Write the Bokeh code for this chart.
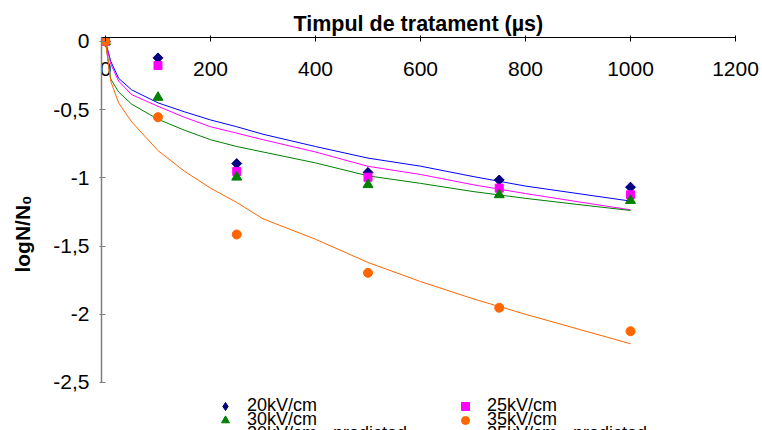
import math
from bokeh.plotting import figure
from bokeh.models import Range1d, FixedTicker, Legend, LegendItem, ColumnDataSource
from bokeh.embed import file_html
from bokeh.resources import INLINE

# ---- data ----
t_meas = [0, 100, 250, 500, 750, 1000]
y_20 = [0, -0.12, -0.895, -0.96, -1.015, -1.068]
y_25 = [0, -0.176, -0.953, -0.995, -1.075, -1.124]
y_30 = [0, -0.41, -0.995, -1.05, -1.124, -1.166]
y_35 = [0, -0.555, -1.415, -1.696, -1.952, -2.124]

t_fit = [0, 10, 25, 50, 100, 150, 200, 250, 300, 400, 500, 600, 700, 800, 900, 1000]
fit_20 = [0, -0.145, -0.27, -0.355, -0.45, -0.515, -0.575, -0.625, -0.68, -0.77, -0.855, -0.914, -0.99, -1.06, -1.115, -1.17]
fit_25 = [0, -0.165, -0.29, -0.39, -0.475, -0.555, -0.625, -0.672, -0.72, -0.81, -0.915, -0.975, -1.05, -1.115, -1.175, -1.234]
fit_30 = [0, -0.275, -0.37, -0.46, -0.57, -0.65, -0.72, -0.77, -0.81, -0.89, -0.985, -1.04, -1.1, -1.15, -1.195, -1.239]
fit_35 = [0, -0.29, -0.45, -0.59, -0.80, -0.95, -1.075, -1.18, -1.30, -1.45, -1.62, -1.76, -1.886, -2.0, -2.108, -2.216]

x_ticks = [0, 200, 400, 600, 800, 1000, 1200]
x_tick_labels = ["0", "200", "400", "600", "800", "1000", "1200"]
y_ticks = [0, -0.5, -1, -1.5, -2, -2.5]
y_tick_labels = ["0", "-0,5", "-1", "-1,5", "-2", "-2,5"]

FONT = "Liberation Sans"
X0, X1 = -7.6, 1251.4
Y0, Y1 = -2.852, 0.0293

p = figure(width=762, height=430, output_backend="svg", toolbar_location=None,
           x_range=Range1d(X0, X1), y_range=Range1d(Y0, Y1),
           x_axis_location="above",
           min_border_left=101, min_border_right=0, min_border_top=37, min_border_bottom=0,
           title="Timpul de tratament (µs)")
p.grid.visible = False
p.outline_line_color = None
p.background_fill_color = "white"

p.title.align = "left"
p.title.offset = 192
p.title.text_font = FONT
p.title.text_font_size = "21.5px"
p.title.text_font_style = "bold"
p.title.standoff = 0
p.title.text_color = "black"

xa = p.xaxis[0]
xa.bounds = (X0, 1200)
xa.ticker = FixedTicker(ticks=x_ticks)
xa.major_label_overrides = {v: "" for v in x_ticks}
xa.major_label_text_font_size = "6px"
xa.major_tick_in = 4
xa.major_tick_out = 2
xa.minor_tick_in = 0
xa.minor_tick_out = 0
xa.major_label_standoff = 0
xa.axis_line_color = "black"
xa.major_tick_line_color = "black"

ya = p.yaxis[0]
ya.bounds = (-2.5, Y1)
ya.ticker = FixedTicker(ticks=y_ticks)
ya.major_label_overrides = {v: s for v, s in zip(y_ticks, y_tick_labels)}
ya.major_tick_in = 4
ya.major_tick_out = 2
ya.minor_tick_in = 0
ya.minor_tick_out = 0
ya.axis_line_color = "#808080"
ya.axis_line_width = 1.5
ya.major_tick_line_color = "#808080"
ya.major_label_standoff = 10
ya.major_label_text_font = FONT
ya.major_label_text_font_size = "21px"
ya.major_label_text_color = "black"
ya.axis_label = "logN/N₀"
ya.axis_label_text_font = FONT
ya.axis_label_text_font_size = "21px"
ya.axis_label_text_font_style = "bold"
ya.axis_label_standoff = 16
ya.axis_label_text_color = "black"

# x tick labels drawn under the top axis line, from the tick arrays
tick_src = ColumnDataSource(dict(x=x_ticks, y=[0] * len(x_ticks), text=x_tick_labels))
p.text(x="x", y="y", text="text", source=tick_src, text_align="center",
       text_baseline="top", y_offset=21, text_font_size="21px",
       text_font={"value": FONT}, text_color="black")

l20 = p.line(t_fit, fit_20, line_color="#0000FF", line_width=1)
l25 = p.line(t_fit, fit_25, line_color="#FF00FF", line_width=1)
l30 = p.line(t_fit, fit_30, line_color="#008000", line_width=1)
l35 = p.line(t_fit, fit_35, line_color="#FF6600", line_width=1)

# diamond (legend glyph) covered by a square turned 45 degrees
r20 = p.scatter(t_meas, y_20, marker="diamond", size=9, color="#000080")
p.scatter(t_meas, y_20, marker="square", angle=math.pi / 4, size=7, color="#000080")
r25 = p.scatter(t_meas, y_25, marker="square", size=8, color="#FF00FF")
r30 = p.scatter(t_meas, y_30, marker="triangle", size=10, color="#008000")
r35 = p.scatter(t_meas, y_35, marker="circle", size=9, color="#FF6600")

def make_legend(items, loc):
    lg = Legend(items=items, orientation="horizontal", location=loc,
                border_line_color=None, background_fill_alpha=0,
                padding=0, margin=0, spacing=0, label_standoff=10,
                glyph_width=24, glyph_height=20, label_width=206, label_height=14,
                label_text_font=FONT, label_text_font_size="18px",
                label_text_color="black")
    p.add_layout(lg)
    return lg

make_legend([LegendItem(label="20kV/cm", renderers=[r20]),
             LegendItem(label="25kV/cm", renderers=[r25])], (112, 14))
make_legend([LegendItem(label="30kV/cm", renderers=[r30]),
             LegendItem(label="35kV/cm", renderers=[r35])], (112, 0))
make_legend([LegendItem(label="20kV/cm - predicted", renderers=[l20]),
             LegendItem(label="25kV/cm - predicted", renderers=[l25])], (112, -14))

open("out.html", "w").write(file_html(p, INLINE))
